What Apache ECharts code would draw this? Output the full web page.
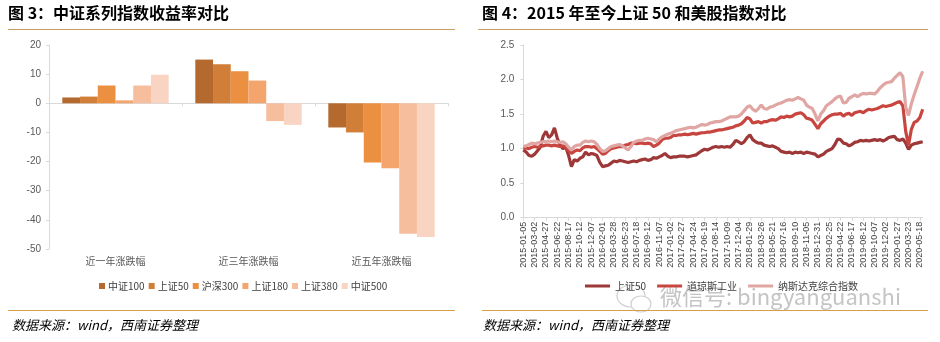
<!DOCTYPE html>
<html><head><meta charset="utf-8">
<script src="https://cdn.jsdelivr.net/npm/echarts@6/dist/echarts.min.js"></script>
<style>html,body{margin:0;padding:0;background:#fff}
#wrap{position:relative;width:940px;height:342px}
#l{position:absolute;left:0;top:0;width:470px;height:342px}
#r{position:absolute;left:470px;top:0;width:470px;height:342px}</style>
</head><body><div id="wrap"><div id="l"></div><div id="r"></div></div><script>
// ---- Left chart data ----
const barCategories = ['近一年涨跌幅', '近三年涨跌幅', '近五年涨跌幅'];
const barNames = ['中证100', '上证50', '沪深300', '上证180', '上证380', '中证500'];
const zz100 = [2.0, 15.0, -8.3];
const sz50b = [2.3, 13.4, -10.0];
const hs300 = [6.1, 11.0, -20.3];
const sz180 = [1.0, 7.8, -22.3];
const sz380 = [6.1, -6.1, -44.8];
const zz500 = [9.8, -7.4, -45.9];
const barYTicks = [-50, -40, -30, -20, -10, 0, 10, 20];

// ---- Right chart data ----
const lineNames = ['上证50', '道琼斯工业', '纳斯达克综合指数'];
const tickLabels = ['2015-01-05','2015-03-02','2015-04-27','2015-06-22','2015-08-17','2015-10-12','2015-12-07',
 '2016-02-01','2016-03-28','2016-05-23','2016-07-18','2016-09-12','2016-11-07','2017-01-02','2017-02-27',
 '2017-04-24','2017-06-19','2017-08-14','2017-10-09','2017-12-04','2018-01-29','2018-03-26','2018-05-21',
 '2018-07-16','2018-09-10','2018-11-05','2018-12-31','2019-02-25','2019-04-22','2019-06-17','2019-08-12',
 '2019-10-07','2019-12-02','2020-01-27','2020-03-23','2020-05-18'];
const sz50 = [
 0.98,0.95,0.90,0.89,0.92,0.97,1.02,1.18,1.25,1.16,
 1.20,1.30,1.15,1.05,1.00,1.02,0.90,0.74,0.84,0.82,
 0.86,0.88,0.95,0.91,0.93,0.92,0.90,0.80,0.74,0.75,
 0.76,0.79,0.82,0.81,0.83,0.82,0.81,0.80,0.81,0.82,
 0.81,0.83,0.84,0.85,0.83,0.84,0.87,0.86,0.88,0.90,
 0.93,0.89,0.87,0.88,0.88,0.89,0.89,0.89,0.88,0.89,
 0.90,0.91,0.94,0.97,0.99,0.98,1.00,1.02,1.03,1.02,
 1.03,1.02,1.03,1.02,1.06,1.12,1.10,1.07,1.10,1.16,
 1.20,1.13,1.10,1.08,1.08,1.05,1.04,1.03,1.04,1.02,
 1.00,0.96,0.95,0.94,0.95,0.93,0.95,0.94,0.95,0.93,
 0.95,0.94,0.93,0.92,0.88,0.90,0.92,0.96,0.98,1.00,
 1.06,1.14,1.13,1.08,1.07,1.04,1.06,1.09,1.10,1.12,
 1.11,1.12,1.11,1.12,1.13,1.12,1.13,1.11,1.13,1.16,
 1.17,1.18,1.13,1.12,1.14,1.08,0.99,1.05,1.07,1.08,
 1.09,1.10];
const dow = [
 1.00,1.01,1.00,1.02,1.03,1.02,1.03,1.04,1.05,1.05,
 1.04,1.05,1.04,1.03,1.04,1.02,0.97,0.93,0.96,0.98,
 0.97,1.01,1.03,1.03,1.02,1.03,1.00,0.96,0.92,0.93,
 0.97,1.00,1.01,1.02,1.03,1.03,1.05,1.06,1.08,1.08,
 1.07,1.08,1.08,1.07,1.08,1.07,1.03,1.05,1.08,1.13,
 1.15,1.15,1.16,1.19,1.19,1.20,1.20,1.21,1.20,1.21,
 1.22,1.21,1.22,1.23,1.23,1.24,1.24,1.25,1.26,1.27,
 1.27,1.28,1.29,1.30,1.31,1.33,1.34,1.36,1.40,1.45,
 1.43,1.37,1.38,1.39,1.37,1.39,1.39,1.41,1.42,1.41,
 1.43,1.46,1.45,1.47,1.46,1.47,1.50,1.51,1.52,1.49,
 1.44,1.43,1.41,1.35,1.29,1.36,1.40,1.44,1.47,1.49,
 1.50,1.50,1.51,1.47,1.50,1.51,1.48,1.52,1.53,1.54,
 1.52,1.55,1.57,1.56,1.57,1.58,1.60,1.62,1.61,1.62,
 1.63,1.65,1.67,1.68,1.62,1.25,1.05,1.28,1.38,1.40,
 1.45,1.57];
const nasdaq = [
 1.03,1.04,1.06,1.08,1.07,1.08,1.09,1.10,1.10,1.11,
 1.10,1.11,1.10,1.09,1.10,1.07,1.02,0.98,1.03,1.05,
 1.05,1.09,1.11,1.10,1.11,1.10,1.06,1.00,0.96,0.97,
 1.00,1.03,1.04,1.05,1.06,1.04,1.01,0.98,1.03,1.09,
 1.11,1.12,1.12,1.14,1.15,1.14,1.13,1.10,1.14,1.17,
 1.19,1.21,1.22,1.24,1.26,1.27,1.28,1.29,1.30,1.31,
 1.30,1.31,1.33,1.35,1.34,1.35,1.37,1.38,1.39,1.39,
 1.40,1.42,1.44,1.46,1.46,1.46,1.47,1.50,1.55,1.60,
 1.62,1.57,1.54,1.58,1.63,1.58,1.57,1.60,1.61,1.63,
 1.65,1.66,1.68,1.70,1.71,1.70,1.72,1.74,1.72,1.70,
 1.63,1.60,1.58,1.50,1.40,1.50,1.55,1.62,1.65,1.68,
 1.72,1.75,1.76,1.66,1.67,1.73,1.75,1.78,1.75,1.78,
 1.80,1.79,1.80,1.80,1.79,1.83,1.88,1.92,1.95,1.96,
 1.97,2.02,2.06,2.10,2.04,1.60,1.48,1.65,1.78,1.90,
 2.02,2.12];

// category dates: each tick label followed by three biweekly dates
function addDays(s, d) { const t = new Date(s + 'T00:00:00Z'); t.setUTCDate(t.getUTCDate() + d); return t.toISOString().slice(0, 10); }
const dates = [];
tickLabels.forEach((s, k) => {
  dates.push(s);
  if (k < tickLabels.length - 1) dates.push(addDays(s, 14), addDays(s, 28), addDays(s, 42));
});
dates.push(addDays(tickLabels[tickLabels.length - 1], 14));

const barColors = ['#B4692E', '#D17E39', '#EB8F41', '#F4A56E', '#F7BE9E', '#F9D4C2'];
const lineColors = ['#9E3838', '#C8463F', '#E0A6A3'];
const numFont = 'Liberation Sans, Arial, sans-serif';
const cjk = 'Noto Sans CJK SC, sans-serif';
const gray = '#595959';
const axisGray = '#D9D9D9';
const titleStyle = { fontFamily: cjk, fontWeight: 'bold', fontSize: 16, fill: '#000' };
const footStyle = { text: '数据来源：wind，西南证券整理', fontFamily: cjk, fontStyle: 'italic', fontSize: 13, fill: '#000' };

// ---------- Left chart ----------
const left = echarts.init(document.getElementById('l'));
const barData = [zz100, sz50b, hs300, sz180, sz380, zz500];
left.setOption({
  animation: false,
  backgroundColor: '#fff',
  grid: { left: 49, right: 22, top: 45, bottom: 93 },
  xAxis: [
    { type: 'category', data: barCategories,
      axisLine: { onZero: true, lineStyle: { color: axisGray } },
      axisTick: { show: true, length: 3, lineStyle: { color: axisGray } },
      axisLabel: { show: false } },
    { type: 'category', data: barCategories, position: 'bottom',
      axisLine: { show: false, onZero: false }, axisTick: { show: false },
      axisLabel: { fontFamily: cjk, fontSize: 10, color: gray, margin: 7 } }
  ],
  yAxis: { type: 'value', min: barYTicks[0], max: barYTicks[barYTicks.length - 1], interval: 10,
    splitLine: { show: false },
    axisLine: { show: true, lineStyle: { color: axisGray } },
    axisTick: { show: true, length: 3, lineStyle: { color: axisGray } },
    axisLabel: { fontFamily: numFont, fontSize: 10, color: gray, margin: 8 } },
  legend: { data: barNames, left: 94, top: 276, icon: 'rect', itemWidth: 6, itemHeight: 6, itemGap: 4,
    textStyle: { fontFamily: cjk, fontSize: 10, color: '#404040', padding: [0, 0, 0, -2] } },
  series: barNames.map((n, i) => ({
    name: n, type: 'bar', data: barData[i],
    barGap: '0%', barCategoryGap: '20%', itemStyle: { color: barColors[i] }
  })),
  graphic: [
    { type: 'text', left: 8, top: 5, style: Object.assign({ text: '图 3：中证系列指数收益率对比' }, titleStyle) },
    { type: 'line', shape: { x1: 8, y1: 29.5, x2: 455, y2: 29.5 }, style: { stroke: '#C9A063', lineWidth: 1 } },
    { type: 'line', shape: { x1: 8, y1: 310.5, x2: 455, y2: 310.5 }, style: { stroke: '#D6A04A', lineWidth: 1 } },
    { type: 'text', left: 12, top: 319, style: footStyle }
  ]
});

// ---------- Right chart ----------
const right = echarts.init(document.getElementById('r'));
const lineData = [sz50, dow, nasdaq];
right.setOption({
  animation: false,
  backgroundColor: '#fff',
  grid: { left: 53.3, right: 17.3, top: 45, bottom: 124.3 },
  xAxis: { type: 'category', data: dates, boundaryGap: false,
    axisLine: { lineStyle: { color: axisGray } },
    axisTick: { show: true, interval: 3, length: 3, lineStyle: { color: axisGray } },
    axisLabel: { interval: 3, rotate: 90, fontFamily: numFont, fontSize: 9, color: '#404040', margin: 4 } },
  yAxis: { type: 'value', min: 0, max: 2.5, interval: 0.5,
    splitLine: { show: false },
    axisLine: { show: true, lineStyle: { color: axisGray } },
    axisTick: { show: true, length: 3, lineStyle: { color: axisGray } },
    axisLabel: { fontFamily: numFont, fontSize: 10, color: gray, margin: 9, formatter: v => v.toFixed(1) } },
  legend: { data: lineNames, left: 110, top: 276, icon: 'rect', itemWidth: 25, itemHeight: 3, itemGap: 11,
    textStyle: { fontFamily: cjk, fontSize: 10, color: '#404040' } },
  series: lineNames.map((n, i) => ({
    name: n, type: 'line', data: lineData[i], symbol: 'none',
    lineStyle: { width: 3.2, color: lineColors[i] }, itemStyle: { color: lineColors[i] }
  })),
  graphic: [
    { type: 'text', left: 12, top: 5, style: Object.assign({ text: '图 4：2015 年至今上证 50 和美股指数对比' }, titleStyle) },
    { type: 'line', shape: { x1: 8, y1: 29.5, x2: 458, y2: 29.5 }, style: { stroke: '#C9A063', lineWidth: 1 } },
    { type: 'ellipse', shape: { cx: 161, cy: 296, rx: 14, ry: 11 }, style: { stroke: '#cfcfcf', fill: '#fff', lineWidth: 1.2 } },
    { type: 'ellipse', shape: { cx: 171, cy: 304, rx: 10, ry: 8 }, style: { stroke: '#cfcfcf', fill: '#fff', lineWidth: 1.2 } },
    { type: 'text', left: 190, top: 286, style: { text: '微信号: bingyanguanshi', fontFamily: cjk, fontSize: 22, fill: '#c4c4c4' } },
    { type: 'line', shape: { x1: 12, y1: 310.5, x2: 458, y2: 310.5 }, style: { stroke: '#D6A04A', lineWidth: 1 } },
    { type: 'text', left: 13, top: 319, style: footStyle }
  ]
});
</script></body></html>
